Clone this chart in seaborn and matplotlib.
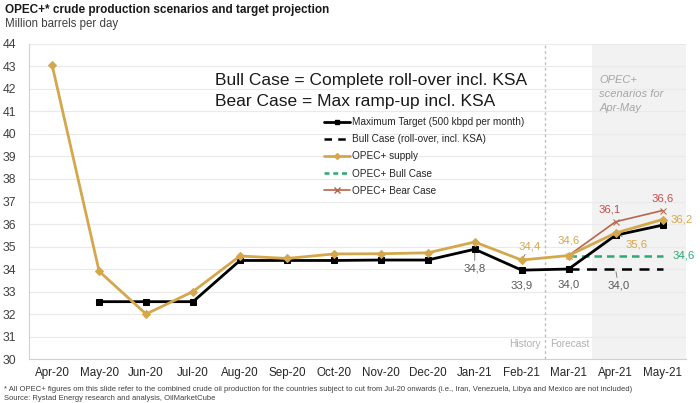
import numpy as np
import pandas as pd
import matplotlib
matplotlib.use("Agg")
import matplotlib.pyplot as plt
import seaborn as sns
from matplotlib.lines import Line2D

months = ["Apr-20", "May-20", "Jun-20", "Jul-20", "Aug-20", "Sep-20", "Oct-20",
          "Nov-20", "Dec-20", "Jan-21", "Feb-21", "Mar-21", "Apr-21", "May-21"]
opec_supply = [43.05, 33.9, 32.0, 33.0, 34.58, 34.47, 34.67, 34.68, 34.72, 35.2, 34.4, 34.6, 35.6, 36.2]
max_target = [None, 32.55, 32.55, 32.55, 34.38, 34.38, 34.38, 34.4, 34.4, 34.88, 33.95, 34.0, 35.5, 35.95]
bull_rollover = [None] * 11 + [34.0, 34.0, 34.0]
opec_bull = [None] * 11 + [34.6, 34.6, 34.6]
opec_bear = [None] * 11 + [34.6, 36.1, 36.6]
yticks = list(range(30, 45))

GOLD = "#D4A74C"
GREEN = "#2FA873"
BEAR = "#B8654A"
BEARTXT = "#C0504D"
GRAYTXT = "#595959"

sns.set_theme(style="white")
plt.rcParams["font.family"] = ["Liberation Sans", "DejaVu Sans"]

pos = np.arange(len(months))
df = pd.DataFrame({"x": pos, "supply": opec_supply, "target": max_target,
                   "bullroll": bull_rollover, "bull": opec_bull, "bear": opec_bear})
df = df.astype(float)

fig = plt.figure(figsize=(7.0, 4.03), dpi=100)
ax = fig.add_axes([0.041, 0.109, 0.939, 0.782])

# shaded forecast scenario region + dividers
ax.axvspan(11.5, 13.5, color="#F2F2F2", zorder=0, lw=0)
ax.axvline(10.5, color="#BFBFBF", lw=1.0, ls=(0, (2, 2)), zorder=1)

sns.lineplot(data=df, x="x", y="bullroll", ax=ax, color="black", lw=1.8,
             linestyle=(0, (4, 3)), zorder=3)
sns.lineplot(data=df, x="x", y="bull", ax=ax, color=GREEN, lw=1.8,
             linestyle=(0, (3, 2)), zorder=3)
sns.lineplot(data=df, x="x", y="target", ax=ax, color="black", lw=2.0,
             marker="s", markersize=5, markeredgecolor="black", zorder=4)
sns.lineplot(data=df, x="x", y="bear", ax=ax, color=BEAR, lw=1.2,
             marker="x", markersize=5, markeredgecolor=BEAR, zorder=5)
sns.lineplot(data=df, x="x", y="supply", ax=ax, color=GOLD, lw=2.0,
             marker="D", markersize=4, markeredgecolor=GOLD, zorder=6)

ax.set_xlim(-0.5, 13.5)
ax.set_ylim(30, 44)
ax.set_yticks(yticks)
ax.set_yticklabels([str(v) for v in yticks], fontsize=8.8, color="#404040")
ax.set_xticks(pos)
ax.set_xticklabels(months, fontsize=8.4, color="#262626")
ax.set_xticks(np.arange(-0.5, 14, 1), minor=True)
ax.tick_params(axis="x", which="major", length=0, pad=6)
ax.tick_params(axis="x", which="minor", length=4, color="#BFBFBF", width=0.8)
ax.tick_params(axis="y", which="major", length=4, color="#D9D9D9", width=0.8, pad=5)
ax.set_xlabel("")
ax.set_ylabel("")
ax.grid(axis="y", color="#EAEAEA", lw=0.8, zorder=0)
for s in ["top", "right"]:
    ax.spines[s].set_visible(False)
for s in ["left", "bottom"]:
    ax.spines[s].set_color("#D0D0D0")
    ax.spines[s].set_linewidth(0.8)

# value labels
def lab(i, y, text, dx, dy, color, lead=False, ha="center"):
    kw = {}
    if lead:
        kw["arrowprops"] = dict(arrowstyle="-", color="#808080", lw=0.7, shrinkA=0, shrinkB=2)
    ax.annotate(text, xy=(i, y), xytext=(dx, dy), textcoords="offset points",
                ha=ha, va="center", fontsize=8.2, color=color, **kw)

lab(9, max_target[9], "34,8", 0, -14, GRAYTXT, lead=True)
lab(10, max_target[10], "33,9", 0, -11, GRAYTXT)
lab(10, opec_supply[10], "34,4", 6, 10, GOLD, lead=True)
lab(11, opec_supply[11], "34,6", 0, 11, GOLD)
lab(11, bull_rollover[11], "34,0", 0, -11, GRAYTXT)
lab(12, bull_rollover[12], "34,0", 2, -12, GRAYTXT, lead=True)
lab(12, opec_supply[12], "35,6", 15, -8, GOLD, lead=True)
lab(12, opec_bear[12], "36,1", -4, 9, BEARTXT)
lab(13, opec_bear[13], "36,6", 0, 9, BEARTXT)
lab(13, opec_supply[13], "36,2", 14, 0, GOLD)
lab(13, opec_bull[13], "34,6", 15, 0, GREEN)

# titles and notes
fig.text(0.007, 0.99, "OPEC+* crude production scenarios and target projection",
         fontsize=8.5, fontweight="bold", color="#1a1a1a", va="top")
fig.text(0.007, 0.955, "Million barrels per day", fontsize=8.3, color="#404040", va="top")
fig.text(0.307, 0.80, "Bull Case = Complete roll-over incl. KSA", fontsize=12.5,
         color="#1a1a1a", va="center")
fig.text(0.307, 0.748, "Bear Case = Max ramp-up incl. KSA", fontsize=12.5,
         color="#1a1a1a", va="center")
ax.text(11.65, 42.6, "OPEC+\nscenarios for\nApr-May", fontsize=8.0, style="italic",
        color="#A6A6A6", va="top", ha="left", linespacing=1.5)
ax.text(10.4, 30.65, "History", fontsize=7.3, color="#B0B0B0", ha="right", va="center")
ax.text(10.6, 30.65, "Forecast", fontsize=7.3, color="#B0B0B0", ha="left", va="center")

fig.text(0.005, 0.033, "* All OPEC+ figures om this slide refer to the combined crude oil production "
         "for the countries subject to cut from Jul-20 onwards (i.e., Iran, Venezuela, Libya "
         "and Mexico are not included)", fontsize=5.5, color="#404040", va="center")
fig.text(0.005, 0.012, "Source: Rystad Energy research and analysis, OilMarketCube",
         fontsize=5.5, color="#404040", va="center")

handles = [
    Line2D([], [], color="black", lw=2.0, marker="s", markersize=3.5),
    Line2D([], [], color="black", lw=1.8, linestyle=(0, (3, 2.5))),
    Line2D([], [], color=GOLD, lw=2.0, marker="D", markersize=3),
    Line2D([], [], color=GREEN, lw=1.8, linestyle=(0, (2, 1.5))),
    Line2D([], [], color=BEAR, lw=1.2, marker="x", markersize=4),
]
labels = ["Maximum Target (500 kbpd per month)", "Bull Case (roll-over, incl. KSA)",
          "OPEC+ supply", "OPEC+ Bull Case", "OPEC+ Bear Case"]
leg = fig.legend(handles, labels, loc="upper left", bbox_to_anchor=(0.455, 0.722),
                 frameon=False, fontsize=7.2, handlelength=2.6, handletextpad=0.3,
                 labelspacing=0.72, borderpad=0)
for t in leg.get_texts():
    t.set_color("#262626")

fig.savefig("out.png", dpi=100)
